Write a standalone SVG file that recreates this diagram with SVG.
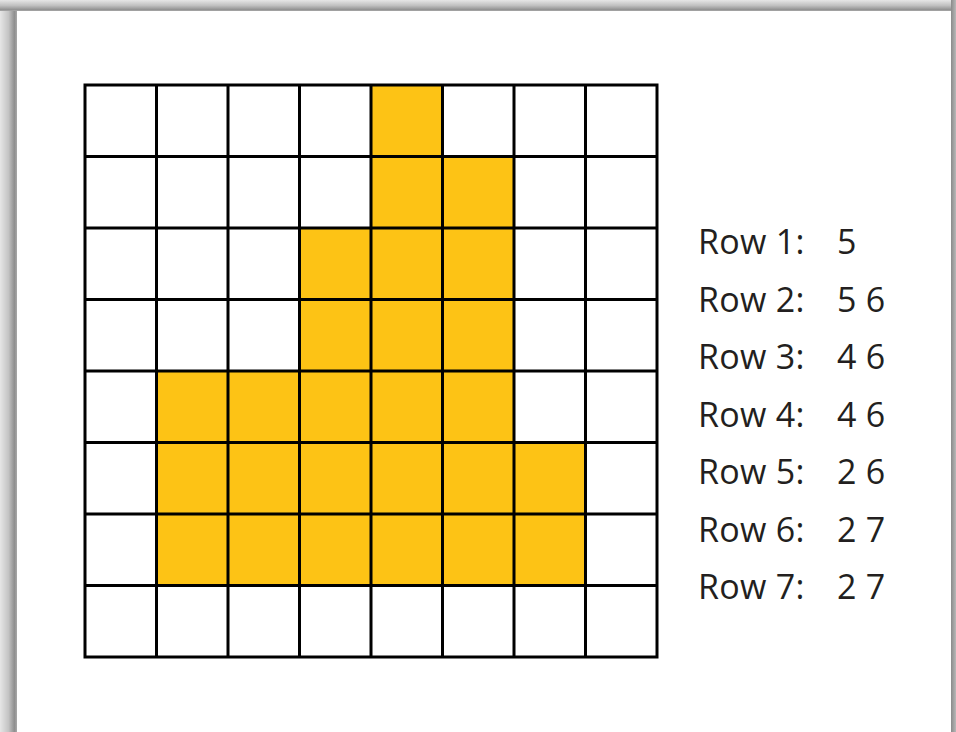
<svg xmlns="http://www.w3.org/2000/svg" width="956" height="732" viewBox="0 0 956 732">
  <defs>
    <linearGradient id="gl" x1="0" y1="0" x2="1" y2="0">
      <stop offset="0" stop-color="#e6e6e6"/>
      <stop offset="0.5" stop-color="#c4c4c4"/>
      <stop offset="0.85" stop-color="#8f8f8f"/>
      <stop offset="1" stop-color="#a8a8a8"/>
    </linearGradient>
    <linearGradient id="gt" x1="0" y1="0" x2="0" y2="1">
      <stop offset="0" stop-color="#e6e6e6"/>
      <stop offset="0.5" stop-color="#c0c0c0"/>
      <stop offset="0.9" stop-color="#8f8f8f"/>
      <stop offset="1" stop-color="#b0b0b0"/>
    </linearGradient>
    <linearGradient id="gr" x1="0" y1="0" x2="1" y2="0">
      <stop offset="0" stop-color="#8a8a8a"/>
      <stop offset="1" stop-color="#b8b8b8"/>
    </linearGradient>
    <style>
      .cell{fill:#fdc315}
      .grid{stroke:#000;stroke-width:3;fill:none}
      .lbl{font-family:"Open Sans","Liberation Sans",sans-serif;font-size:34px;fill:#231f20;letter-spacing:0.3px}
    </style>
  </defs>
  <rect x="0" y="0" width="956" height="732" fill="#fff"/>
  <rect x="0" y="0" width="17" height="732" fill="url(#gl)"/>
  <rect x="0" y="0" width="956" height="11" fill="url(#gt)"/>
  <rect x="951" y="0" width="5" height="732" fill="url(#gr)"/>
  <rect x="17" y="11" width="934" height="721" fill="#fff"/>

  <g id="cells">
    <rect class="cell" x="371" y="85" width="71.5" height="71.5"/>
    <rect class="cell" x="371" y="156.5" width="143" height="71.5"/>
    <rect class="cell" x="299.5" y="228" width="214.5" height="143"/>
    <rect class="cell" x="156.5" y="371" width="357.5" height="71.5"/>
    <rect class="cell" x="156.5" y="442.5" width="429" height="143"/>
  </g>
  <g id="grid" class="grid">
    <rect x="85" y="85" width="572" height="572"/>
    <path d="M156.5 85V657M228 85V657M299.5 85V657M371 85V657M442.5 85V657M514 85V657M585.5 85V657M85 156.5H657M85 228H657M85 299.5H657M85 371H657M85 442.5H657M85 514H657M85 585.5H657"/>
  </g>
  <g id="labels" class="lbl">
    <text x="698" y="254">Row 1:</text><text x="837" y="254">5</text>
    <text x="698" y="311.5">Row 2:</text><text x="837" y="311.5">5 6</text>
    <text x="698" y="369">Row 3:</text><text x="837" y="369">4 6</text>
    <text x="698" y="426.5">Row 4:</text><text x="837" y="426.5">4 6</text>
    <text x="698" y="484">Row 5:</text><text x="837" y="484">2 6</text>
    <text x="698" y="541.5">Row 6:</text><text x="837" y="541.5">2 7</text>
    <text x="698" y="599">Row 7:</text><text x="837" y="599">2 7</text>
  </g>
</svg>
